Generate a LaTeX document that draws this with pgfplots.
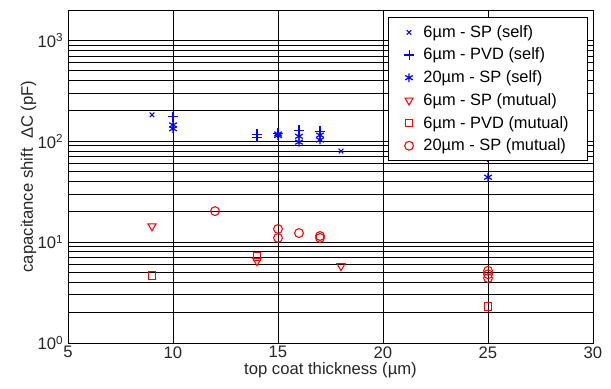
\documentclass[border=0pt]{standalone}
\usepackage{pgfplots}
\pgfplotsset{compat=1.18}
\usepackage{fontspec}
\setmainfont{Liberation Sans}
\begin{document}
\begin{tikzpicture}
\begin{axis}[
  scale only axis,
  width=393.75pt, height=249.75pt,
  xmin=5, xmax=30, ymin=1, ymax=2000,
  ymode=log,
  xtick={5,10,15,20,25,30},
  ytick={1,10,100,1000},
  yticklabels={10\textsuperscript{0},10\textsuperscript{1},10\textsuperscript{2},10\textsuperscript{3}},
  /pgf/number format/assume math mode=true,
  tick label style={font=\fontsize{12.5}{14}\selectfont, text=black!85},
  label style={font=\fontsize{12.5}{14}\selectfont, text=black!85},
  xlabel={top coat thickness (µm)},
  ylabel={capacitance shift\ \ ΔC (pF)},
  xlabel style={yshift=4pt},
  ylabel style={yshift=-6pt},
  xticklabel style={yshift=1pt},
  grid=both,
  xminorgrids=false,
  major grid style={black, line width=0.6pt},
  minor grid style={black, line width=0.6pt},
  tick style={black, line width=0.6pt},
  major tick length=2.5pt, minor tick length=0pt,
  axis line style={black, line width=0.7pt},
  tick align=inside,
  legend style={at={(0.99,0.979)}, anchor=north east, draw=black, fill=white,
    font=\fontsize{12.3}{14}\selectfont, row sep=2.6pt,
    column sep=5pt,
    inner xsep=12pt, inner ysep=4pt, line width=0.6pt},
  legend cell align=left,
]
\coordinate (SW) at (rel axis cs:0,0);
\coordinate (NE) at (rel axis cs:1,1);
\addplot[only marks, color=blue, mark=x, mark size=2.4pt, line width=0.8pt, mark options={draw=blue}] coordinates {(9,183) (18,80)};
\addlegendentry{6µm - SP (self)}
\addplot[only marks, color=blue, mark=+, mark size=3.8pt, line width=0.8pt, mark options={draw=blue}] coordinates {(10,175) (14,117) (14,110) (15,120) (16,128) (17,125) (25,70)};
\addlegendentry{6µm - PVD (self)}
\addplot[only marks, color=blue, mark=asterisk, mark size=3.3pt, line width=0.9pt, mark options={draw=blue}] coordinates {(10,145) (10,133) (15,118) (15,114) (16,112) (16,98) (17,115) (17,103) (25,44)};
\addlegendentry{20µm - SP (self)}
\addplot[only marks, color=red, mark=triangle, mark options={rotate=180, draw=red, fill=none}, mark size=3.5pt, line width=0.8pt] coordinates {(9,14.4) (14,6.5) (18,5.8)};
\addlegendentry{6µm - SP (mutual)}
\addplot[only marks, color=red, mark=square, mark size=2.9pt, line width=0.8pt, mark options={draw=red, fill=none}] coordinates {(9,4.7) (14,7.2) (25,2.3)};
\addlegendentry{6µm - PVD (mutual)}
\addplot[only marks, color=red, mark=o, mark size=3.3pt, line width=0.8pt, mark options={draw=red, fill=none}] coordinates {(12,20.3) (15,13.5) (15,11.0) (16,12.3) (17,11.5) (17,11.0) (25,5.2) (25,4.8) (25,4.4)};
\addlegendentry{20µm - SP (mutual)}
\end{axis}
\pgfresetboundingbox
\path[use as bounding box] ([shift={(-51pt,-34.5pt)}]SW) rectangle ([shift={(13.5pt,7.5pt)}]NE);
\end{tikzpicture}
\end{document}
